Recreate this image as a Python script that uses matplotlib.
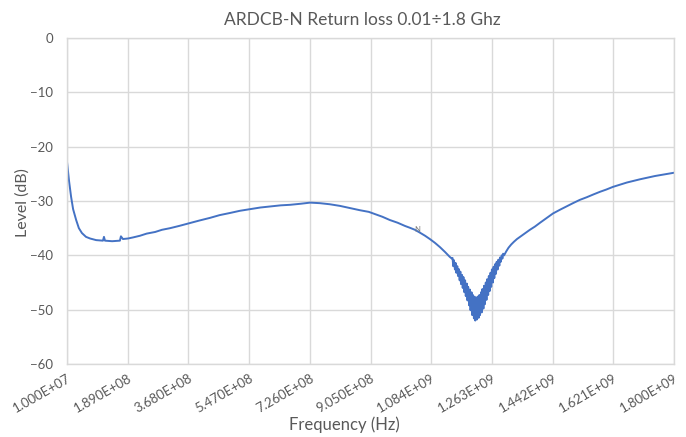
import matplotlib
matplotlib.use("Agg")
import matplotlib.pyplot as plt
import numpy as np

# Frequency in MHz, level in dB
freq_smooth_left = [10, 16, 22, 28, 37, 45, 54, 66, 78, 96, 116, 119, 122, 143, 166, 169, 175,
                    190, 205, 225, 245, 270, 290, 314, 340, 370, 400, 432, 460, 491, 520, 550,
                    580, 609, 640, 668, 700, 727, 756, 785, 815, 845, 874, 900, 918, 940, 962,
                    985, 1007, 1020, 1036, 1050, 1066, 1080, 1095, 1110, 1125, 1139, 1145]
level_smooth_left = [-22.8, -26.3, -29.2, -31.5, -33.5, -35.0, -35.9, -36.6, -36.9, -37.2, -37.3, -36.6, -37.3,
                     -37.4, -37.3, -36.5, -37.0, -36.9, -36.7, -36.4, -36.0, -35.7, -35.3, -35.0, -34.6,
                     -34.1, -33.6, -33.1, -32.6, -32.2, -31.8, -31.5, -31.2, -31.0, -30.8, -30.7,
                     -30.5, -30.3, -30.4, -30.6, -30.9, -31.3, -31.7, -32.0, -32.4, -32.9, -33.5,
                     -34.0, -34.6, -34.9, -35.3, -35.8, -36.4, -37.0, -37.7, -38.5, -39.4, -40.3, -40.6]

freq_dip = [1147, 1149, 1151, 1154, 1156, 1158, 1161, 1163, 1165, 1168, 1170, 1172, 1175, 1177,
            1179, 1182, 1184, 1186, 1189, 1191, 1193, 1196, 1198, 1200, 1203, 1205, 1207, 1210,
            1212, 1214, 1217, 1219, 1221, 1224, 1226, 1228, 1231, 1233, 1235, 1238, 1240, 1242,
            1245, 1247, 1249, 1252, 1254, 1256, 1259, 1261, 1263, 1266, 1268, 1270, 1273, 1275,
            1277, 1280, 1282, 1285, 1287, 1289, 1292, 1294, 1296, 1299]
level_dip = [-40.5, -42.0, -40.9, -42.6, -41.4, -43.2, -42.0, -43.8, -42.5, -44.6, -43.0, -45.3, -43.6,
             -46.0, -44.0, -46.8, -44.6, -47.5, -45.2, -48.3, -45.8, -49.2, -46.3, -50.1, -46.8,
             -51.0, -47.3, -51.6, -47.6, -52.0, -47.8, -51.8, -47.6, -51.5, -47.3, -51.0, -46.8,
             -50.5, -46.2, -49.8, -45.6, -49.0, -45.0, -48.2, -44.4, -47.3, -43.8, -46.6, -43.2,
             -45.8, -42.6, -45.0, -42.1, -44.2, -41.6, -43.4, -41.2, -42.6, -40.8, -41.9, -40.4,
             -41.2, -40.0, -40.6, -39.7, -40.0]

freq_smooth_right = [1305, 1312, 1320, 1328, 1337, 1346, 1360, 1375, 1390, 1405, 1425, 1443,
                     1464, 1483, 1502, 1522, 1543, 1562, 1582, 1600, 1620, 1640, 1661, 1680, 1700,
                     1722, 1744, 1772, 1800]
level_smooth_right = [-39.3, -38.6, -38.0, -37.5, -37.0, -36.6, -36.0, -35.3, -34.7, -34.0,
                      -33.1, -32.3, -31.6, -31.0, -30.4, -29.8, -29.3, -28.8, -28.3, -27.9, -27.4,
                      -27.0, -26.6, -26.3, -26.0, -25.7, -25.4, -25.1, -24.8]

freq_mhz = freq_smooth_left + freq_dip + freq_smooth_right
level_db = level_smooth_left + level_dip + level_smooth_right

x_ticks = [1.0e7, 1.89e8, 3.68e8, 5.47e8, 7.26e8, 9.05e8, 1.084e9, 1.263e9, 1.442e9, 1.621e9, 1.8e9]
x_tick_labels = ["1.000E+07", "1.890E+08", "3.680E+08", "5.470E+08", "7.260E+08", "9.050E+08",
                 "1.084E+09", "1.263E+09", "1.442E+09", "1.621E+09", "1.800E+09"]
y_ticks = [0, -10, -20, -30, -40, -50, -60]

plt.rcParams['font.family'] = ['Lato', 'DejaVu Sans']
fig = plt.figure(figsize=(6.86, 4.37), dpi=100)
ax = fig.add_axes([67/686, 1-364/437, (674-67)/686, (364-38)/437])

freq_hz = np.array(freq_mhz) * 1e6
ax.plot(freq_hz, level_db, color='#4472C4', linewidth=1.4, solid_joinstyle='round')

ax.set_xlim(x_ticks[0], x_ticks[-1])
ax.set_ylim(-60, 0)
ax.set_xticks(x_ticks)
ax.set_xticklabels(x_tick_labels, rotation=30, ha='right', va='top', rotation_mode='anchor')
ax.set_yticks(y_ticks)
ax.grid(True, color='#D9D9D9', linewidth=1.0)
ax.set_axisbelow(True)
for s in ax.spines.values():
    s.set_color('#D9D9D9')
    s.set_linewidth(1.0)
ax.tick_params(axis='both', length=0, colors='#595959', labelsize=9.5)
ax.tick_params(axis='x', pad=6)
ax.tick_params(axis='y', pad=10)

fig.text(362/686, 1-20/437, "ARDCB-N Return loss 0.01÷1.8 Ghz", fontsize=12.5, color='#595959',
         ha='center', va='center')
fig.text(344/686, 1-425/437, "Frequency (Hz)", fontsize=12, color='#595959', ha='center', va='center')
fig.text(23/686, 1-203/437, "Level (dB)", fontsize=11.5, color='#595959', ha='center', va='center',
         rotation=90)

ax.text(1.042e9, -35.2, "N", fontsize=5.5, color='#7F7F7F', ha='center', va='center')

fig.savefig("out.png", dpi=100)
